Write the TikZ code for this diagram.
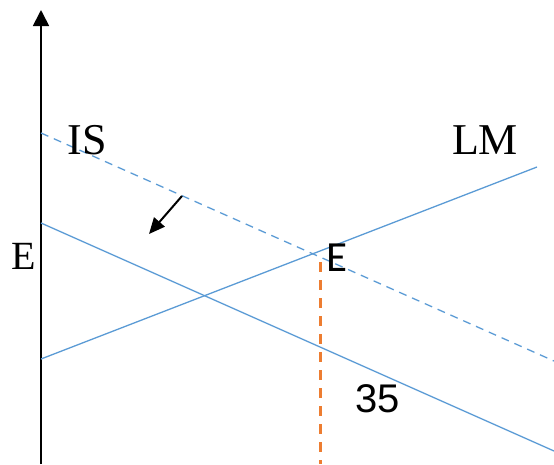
\documentclass[tikz,border=0pt]{standalone}
\usepackage{fontspec}
\setmainfont{Liberation Serif}
\newfontfamily\labelsans{Liberation Sans}
\newfontfamily\narrowsans{Carlito}
\usetikzlibrary{arrows.meta}
\definecolor{curveblue}{HTML}{5B9BD5}
\definecolor{dropline}{HTML}{ED7D31}
\tikzset{
  curve/.style={draw=curveblue, line width=1.3pt},
  shifted/.style={curve, dash pattern=on 8pt off 6pt},
  serif label/.style={inner sep=0pt, font=\fontsize{44}{44}\selectfont},
  sans label/.style={inner sep=0pt, font=\labelsans\fontsize{40}{40}\selectfont},
}
\begin{document}
\begin{tikzpicture}[x=1pt,y=-1pt]
  \useasboundingbox (0,0) rectangle (554,464);

  % vertical axis
  \coordinate (axisbot) at (41,464);
  \coordinate (axistop) at (41,10);
  \draw[line width=1.7pt, -{Triangle[length=16pt,width=16pt]}] (axisbot) -- (axistop);

  % IS before the shift (dashed) and after (solid)
  \coordinate (isoldA) at (41,133);
  \coordinate (isoldB) at (554,361);
  \draw[shifted] (isoldA) -- (isoldB);
  \coordinate (isnewA) at (41,223);
  \coordinate (isnewB) at (554,451);
  \draw[curve] (isnewA) -- (isnewB);

  % LM
  \coordinate (lmA) at (41,359);
  \coordinate (lmB) at (537,167);
  \draw[curve] (lmA) -- (lmB);

  % shift arrow
  \coordinate (shiftA) at (182,196);
  \coordinate (shiftB) at (149,234);
  \draw[line width=2pt, -{Triangle[length=16pt,width=14pt]}] (shiftA) -- (shiftB);

  % drop line from the old equilibrium
  \coordinate (dropA) at (320,262);
  \coordinate (dropB) at (320,464);
  \draw[draw=dropline, line width=3pt, dash pattern=on 10pt off 8pt] (dropA) -- (dropB);

  % labels
  \node[serif label] (lblis) at (87,140) {IS};
  \node[serif label] (lblmm) at (485,140) {LM};
  \node[serif label, font=\fontsize{40}{40}\selectfont] (lble) at (24,256) {E};
  \node[inner sep=0pt, font=\narrowsans\fontsize{43}{43}\selectfont] (lbleq) at (337,258) {E};
  \node[sans label] (lblval) at (378,399) {35};
\end{tikzpicture}
\end{document}
